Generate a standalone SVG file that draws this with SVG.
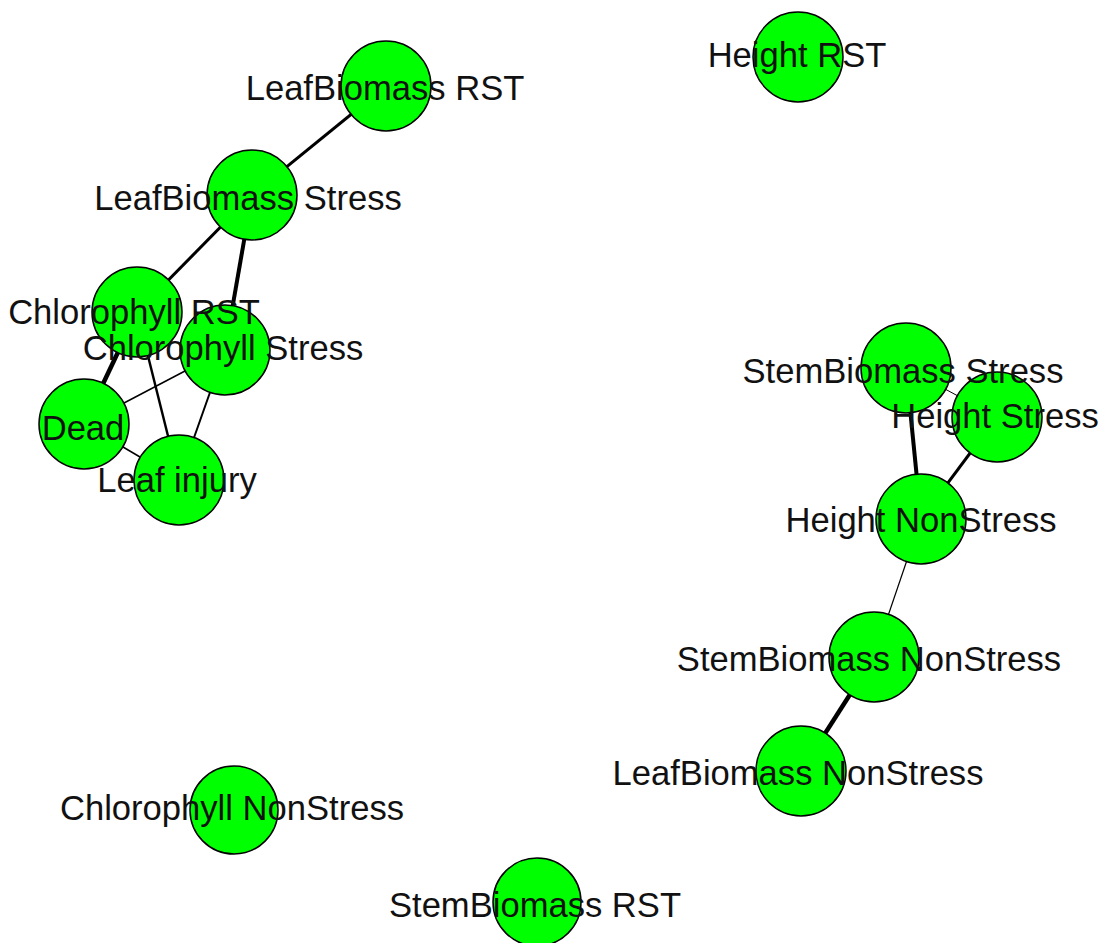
<svg xmlns="http://www.w3.org/2000/svg" width="1104" height="943" viewBox="0 0 1104 943">
  <style>
    .node circle { fill: #00ff00; stroke: #000; stroke-width: 1.5; }
    .edge { stroke: #000; stroke-linecap: butt; fill: none; }
    .label { font-family: "Liberation Sans", Arial, sans-serif; font-size: 34.6px; fill: #111; text-anchor: middle; }
  </style>
  <rect x="0" y="0" width="1104" height="943" fill="#fff"/>

  <!-- connectors, stroke width reflects edge weight -->
  <g id="edges">
    <line class="edge" x1="386" y1="86" x2="252" y2="195" stroke-width="3"/>
    <line class="edge" x1="252" y1="195" x2="137" y2="312" stroke-width="3"/>
    <line class="edge" x1="252" y1="195" x2="225" y2="350" stroke-width="4"/>
    <line class="edge" x1="137" y1="312" x2="84" y2="424" stroke-width="4.5"/>
    <line class="edge" x1="137" y1="312" x2="179" y2="480" stroke-width="2.5"/>
    <line class="edge" x1="225" y1="350" x2="84" y2="424" stroke-width="1.5"/>
    <line class="edge" x1="225" y1="350" x2="179" y2="480" stroke-width="2"/>
    <line class="edge" x1="84" y1="424" x2="179" y2="480" stroke-width="1.5"/>
    <line class="edge" x1="906" y1="368" x2="921" y2="519" stroke-width="4"/>
    <line class="edge" x1="997" y1="417" x2="921" y2="519" stroke-width="3"/>
    <line class="edge" x1="906" y1="368" x2="997" y2="417" stroke-width="1"/>
    <line class="edge" x1="921" y1="519" x2="874" y2="657" stroke-width="1.2"/>
    <line class="edge" x1="874" y1="657" x2="801" y2="771" stroke-width="4.5"/>
  </g>

  <!-- vertices -->
  <g id="nodes">
    <g id="node-height-rst" class="node"><circle cx="798" cy="57" r="45"/></g>
    <g id="node-leafbiomass-rst" class="node"><circle cx="386" cy="86" r="45"/></g>
    <g id="node-leafbiomass-stress" class="node"><circle cx="252" cy="195" r="45"/></g>
    <g id="node-chlorophyll-stress" class="node"><circle cx="225" cy="350" r="45"/></g>
    <g id="node-chlorophyll-rst" class="node"><circle cx="137" cy="312" r="45"/></g>
    <g id="node-dead" class="node"><circle cx="84" cy="424" r="45"/></g>
    <g id="node-leaf-injury" class="node"><circle cx="179" cy="480" r="45"/></g>
    <g id="node-stembiomass-stress" class="node"><circle cx="906" cy="368" r="45"/></g>
    <g id="node-height-stress" class="node"><circle cx="997" cy="417" r="45"/></g>
    <g id="node-height-nonstress" class="node"><circle cx="921" cy="519" r="45"/></g>
    <g id="node-stembiomass-nonstress" class="node"><circle cx="874" cy="657" r="45"/></g>
    <g id="node-leafbiomass-nonstress" class="node"><circle cx="801" cy="771" r="45"/></g>
    <g id="node-chlorophyll-nonstress" class="node"><circle cx="234" cy="810" r="44"/></g>
    <g id="node-stembiomass-rst" class="node"><circle cx="537" cy="902" r="44"/></g>
  </g>

  <!-- vertex labels sit above every vertex -->
  <g id="labels">
    <text class="label" x="797" y="67">Height RST</text>
    <text class="label" x="385" y="100">LeafBiomass RST</text>
    <text class="label" x="248" y="210">LeafBiomass Stress</text>
    <text class="label" x="134" y="324">Chlorophyll RST</text>
    <text class="label" x="223" y="360">Chlorophyll Stress</text>
    <text class="label" x="83" y="440">Dead</text>
    <text class="label" x="177" y="492">Leaf injury</text>
    <text class="label" x="903" y="383">StemBiomass Stress</text>
    <text class="label" x="995" y="428">Height Stress</text>
    <text class="label" x="921" y="532">Height NonStress</text>
    <text class="label" x="869" y="671">StemBiomass NonStress</text>
    <text class="label" x="798" y="785">LeafBiomass NonStress</text>
    <text class="label" x="232" y="820">Chlorophyll NonStress</text>
    <text class="label" x="535" y="917">StemBiomass RST</text>
  </g>
</svg>
